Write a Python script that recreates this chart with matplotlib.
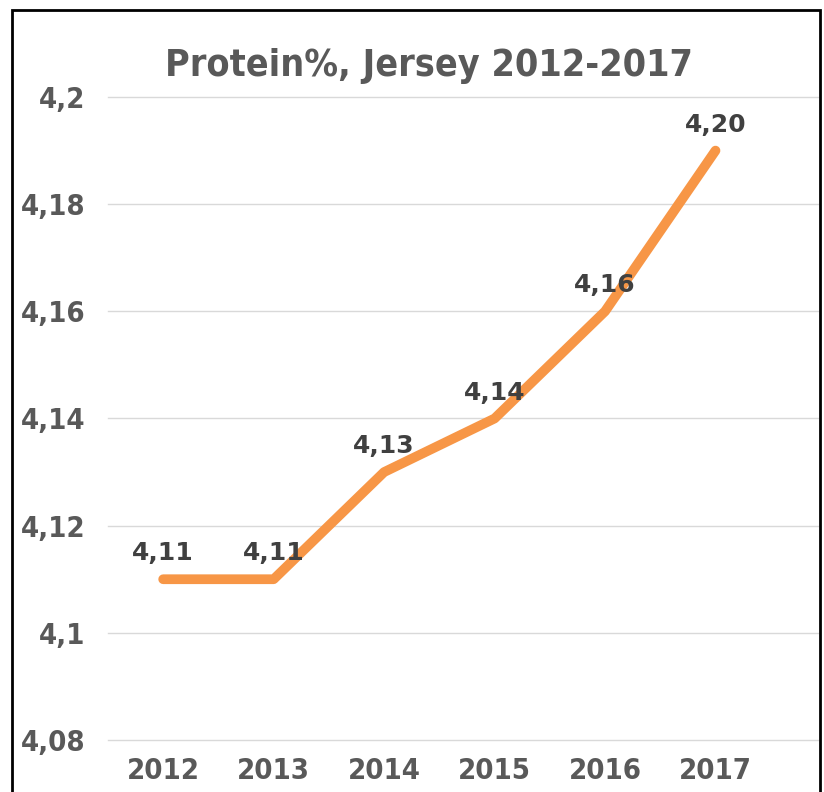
import matplotlib.pyplot as plt
from matplotlib.patches import Rectangle

years = ["2012", "2013", "2014", "2015", "2016", "2017"]
protein = [4.11, 4.11, 4.13, 4.14, 4.16, 4.19]
point_labels = ["4,11", "4,11", "4,13", "4,14", "4,16", "4,20"]
yticks = [4.08, 4.10, 4.12, 4.14, 4.16, 4.18, 4.20]
ytick_labels = ["4,08", "4,1", "4,12", "4,14", "4,16", "4,18", "4,2"]

grey = "#595959"

fig = plt.figure(figsize=(8.24, 7.92), dpi=100)
ax = fig.add_axes([0.131, 0.0657, 0.862, 0.8118])

x = list(range(len(years)))
ax.plot(x, protein, color="#F79646", linewidth=7, solid_capstyle="round", solid_joinstyle="round", zorder=3)
for xi, yi, lab in zip(x, protein, point_labels):
    ax.annotate(lab, (xi, yi), xytext=(0, 10), textcoords="offset points",
                ha="center", va="bottom", fontsize=18, fontweight="bold", color="#404040")

ax.set_xlim(-0.5, 5.93)
ax.set_ylim(4.08, 4.20)
ax.set_xticks(x)
ax.set_xticklabels(years)
ax.set_yticks(yticks)
ax.set_yticklabels(ytick_labels)
ax.tick_params(axis="x", length=0, labelsize=21, labelcolor=grey, pad=12)
ax.tick_params(axis="y", length=0, labelsize=21, labelcolor=grey, pad=16)
for lab in ax.get_xticklabels() + ax.get_yticklabels():
    lab.set_fontweight("bold")
    lab.set_fontstretch("condensed")
ax.grid(axis="y", color="#D9D9D9", linewidth=1)
for gl in ax.get_ygridlines():
    gl.set_clip_on(False)
ax.set_axisbelow(True)
for s in ax.spines.values():
    s.set_visible(False)

fig.text(0.52, 0.917, "Protein%, Jersey 2012-2017", ha="center", va="center",
         fontsize=27, fontweight="bold", fontstretch="condensed", color=grey)

fig.patches.append(Rectangle((0.0146, -0.05), 0.981, 1.037, transform=fig.transFigure,
                             fill=False, edgecolor="black", linewidth=2))

fig.savefig("out.png", dpi=100)
